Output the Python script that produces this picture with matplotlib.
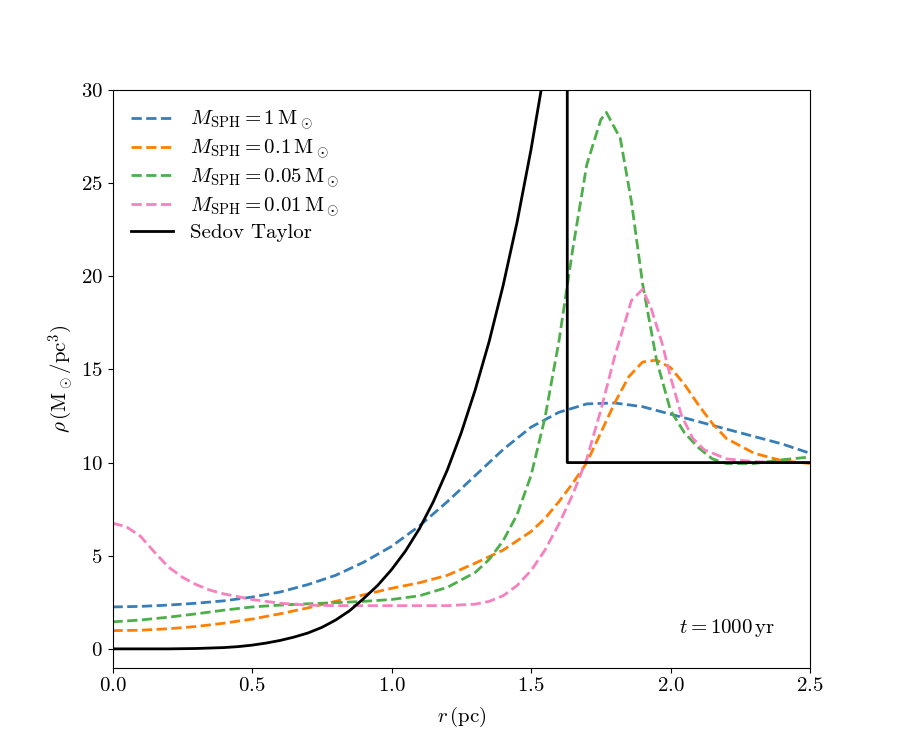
import matplotlib
matplotlib.use("Agg")
import matplotlib.pyplot as plt

plt.rcParams['font.family'] = 'serif'
plt.rcParams['font.serif'] = ['cmr10']
plt.rcParams['mathtext.fontset'] = 'cm'
plt.rcParams['axes.unicode_minus'] = False
plt.rcParams['axes.formatter.use_mathtext'] = True
plt.rcParams['font.size'] = 15

# radius grids (pc) and densities (Msun/pc^3)
r_m1 = [0.0, 0.1, 0.2, 0.3, 0.4, 0.5, 0.6, 0.7, 0.8, 0.9, 1.0, 1.1, 1.2, 1.3, 1.4,
        1.5, 1.6, 1.7, 1.8, 1.9, 2.0, 2.1, 2.2, 2.3, 2.4, 2.5]
rho_m1 = [2.25, 2.28, 2.35, 2.45, 2.58, 2.78, 3.05, 3.45, 3.95, 4.65, 5.5, 6.6, 7.9,
          9.3, 10.7, 11.9, 12.7, 13.15, 13.2, 13.0, 12.6, 12.2, 11.8, 11.4, 11.0, 10.5]

r_m01 = [0.0, 0.1, 0.2, 0.3, 0.4, 0.5, 0.6, 0.7, 0.8, 0.9, 1.0, 1.1, 1.2, 1.3, 1.4,
         1.5, 1.55, 1.6, 1.65, 1.7, 1.75, 1.8, 1.85, 1.9, 1.95, 2.0, 2.05, 2.1, 2.15,
         2.2, 2.3, 2.4, 2.5]
rho_m01 = [0.98, 1.0, 1.08, 1.2, 1.38, 1.6, 1.88, 2.2, 2.55, 2.9, 3.25, 3.55, 3.95,
           4.6, 5.3, 6.3, 7.0, 7.9, 8.9, 10.0, 11.6, 13.2, 14.6, 15.4, 15.5, 15.1,
           14.2, 13.1, 12.1, 11.3, 10.5, 10.1, 9.95]

r_m005 = [0.0, 0.1, 0.2, 0.3, 0.4, 0.5, 0.6, 0.7, 0.8, 0.9, 1.0, 1.1, 1.2, 1.3,
          1.35, 1.4, 1.45, 1.5, 1.55, 1.6, 1.65, 1.7, 1.75, 1.77, 1.82, 1.86, 1.9,
          1.95, 2.0, 2.05, 2.1, 2.15, 2.2, 2.3, 2.4, 2.5]
rho_m005 = [1.45, 1.55, 1.7, 1.88, 2.08, 2.25, 2.35, 2.42, 2.48, 2.55, 2.65, 2.85,
            3.3, 4.1, 4.8, 5.8, 7.2, 9.3, 12.4, 16.5, 21.5, 26.0, 28.4, 28.8, 27.4,
            24.0, 19.6, 15.5, 12.8, 11.6, 10.8, 10.2, 9.95, 9.95, 10.15, 10.3]

r_m001 = [0.0, 0.05, 0.1, 0.15, 0.2, 0.25, 0.3, 0.35, 0.4, 0.5, 0.6, 0.7, 0.8, 0.9,
          1.0, 1.1, 1.2, 1.3, 1.35, 1.4, 1.45, 1.5, 1.55, 1.6, 1.65, 1.7, 1.75, 1.8,
          1.86, 1.9, 1.93, 1.97, 2.0, 2.04, 2.08, 2.12, 2.2, 2.3, 2.4, 2.5]
rho_m001 = [6.75, 6.55, 6.05, 5.2, 4.4, 3.85, 3.45, 3.15, 2.95, 2.65, 2.45, 2.35,
            2.32, 2.32, 2.32, 2.32, 2.32, 2.4, 2.55, 2.85, 3.4, 4.2, 5.3, 6.7, 8.3,
            10.2, 12.8, 15.7, 18.7, 19.3, 18.3, 16.4, 14.6, 12.5, 11.3, 10.7, 10.2,
            10.05, 10.0, 10.0]

# analytic Sedov-Taylor profile, shock at ~1.63 pc (clipped above 30)
r_st = [0.0, 0.2, 0.3, 0.4, 0.45, 0.5, 0.55, 0.6, 0.65, 0.7, 0.75, 0.8, 0.85, 0.9,
        0.95, 1.0, 1.05, 1.1, 1.15, 1.2, 1.25, 1.3, 1.35, 1.4, 1.45, 1.5, 1.55, 1.6,
        1.63, 1.63, 2.5]
rho_st = [0.0, 0.0, 0.02, 0.07, 0.12, 0.2, 0.31, 0.45, 0.63, 0.85, 1.15, 1.55, 2.05,
          2.7, 3.4, 4.25, 5.25, 6.45, 7.9, 9.6, 11.6, 13.9, 16.5, 19.5, 22.9, 26.8,
          31.2, 36.2, 40.0, 10.0, 10.0]

fig, ax = plt.subplots(figsize=(9, 7.5), dpi=100)

ax.plot(r_m1, rho_m1, '--', color='#377eb8', lw=2, label=r'$M_{\rm SPH} = 1\,{\rm M}_\odot$')
ax.plot(r_m01, rho_m01, '--', color='#ff7f00', lw=2, label=r'$M_{\rm SPH} = 0.1\,{\rm M}_\odot$')
ax.plot(r_m005, rho_m005, '--', color='#4daf4a', lw=2, label=r'$M_{\rm SPH} = 0.05\,{\rm M}_\odot$')
ax.plot(r_m001, rho_m001, '--', color='#f781bf', lw=2, label=r'$M_{\rm SPH} = 0.01\,{\rm M}_\odot$')
ax.plot(r_st, rho_st, '-', color='k', lw=2, label='Sedov Taylor')

ax.set_xlim(0, 2.5)
ax.set_ylim(-1, 30)
ax.set_xlabel(r'$r\,({\rm pc})$', labelpad=7)
ax.set_ylabel(r'$\rho\,({\rm M}_\odot/{\rm pc}^3)$')
ax.text(0.95, 0.05, r'$t = 1000\,{\rm yr}$', transform=ax.transAxes, ha='right', va='bottom')
ax.legend(loc='upper left', frameon=False, labelspacing=0.25)

fig.savefig('out.png')
